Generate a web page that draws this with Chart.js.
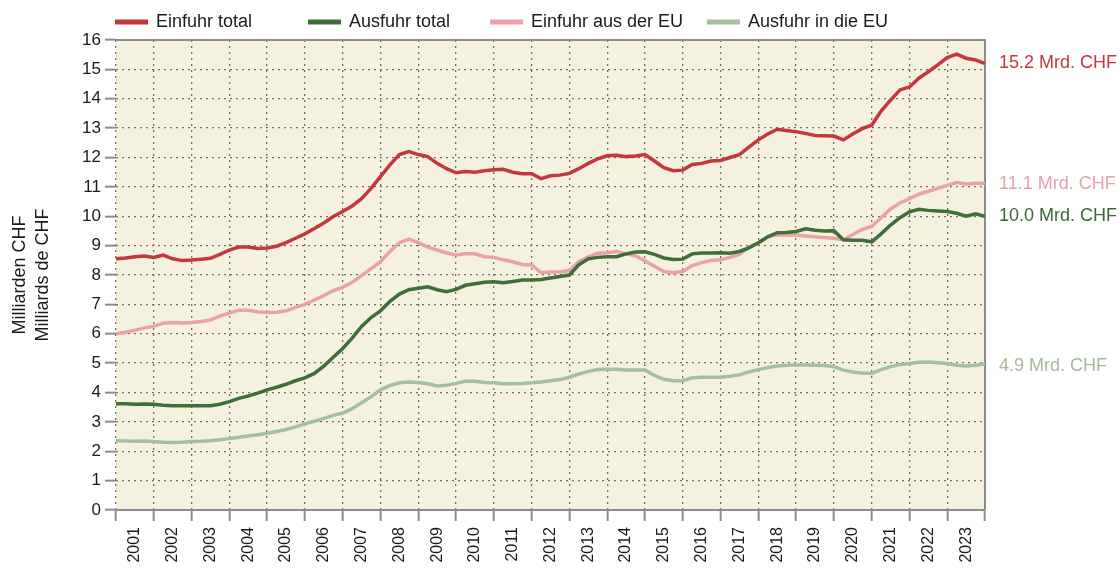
<!DOCTYPE html>
<html lang="de">
<head>
<meta charset="UTF-8">
<title>Aussenhandel Schweiz</title>
<script src="https://cdn.jsdelivr.net/npm/chart.js"></script>
<style>
  body { margin: 0; background: #fff; }
  #wrap { width: 1120px; height: 572px; }
</style>
</head>
<body>
<div id="wrap"><canvas id="chart"></canvas></div>
<script>
// quarterly readings, first point = start of 2001, last = end of 2023
const startYear = 2001;
const endYear = 2024;
const yearTicks = [];
for (let y = startYear; y <= endYear; y++) yearTicks.push(y);

const seriesNames = ['Einfuhr total', 'Ausfuhr total', 'Einfuhr aus der EU', 'Ausfuhr in die EU'];

const einfuhrTotal = [
  8.55, 8.58, 8.62, 8.65,  8.60, 8.68, 8.55, 8.49,  8.51, 8.54, 8.57, 8.70,
  8.85, 8.95, 8.95, 8.90,  8.92, 8.98, 9.10, 9.25,  9.40, 9.58, 9.77, 9.99,
  10.16, 10.35, 10.60, 10.95,  11.35, 11.75, 12.10, 12.20,  12.10, 12.03, 11.80, 11.62,
  11.48, 11.52, 11.50, 11.55,  11.58, 11.60, 11.50, 11.45,  11.45, 11.28, 11.38, 11.40,
  11.46, 11.62, 11.80, 11.95,  12.06, 12.08, 12.03, 12.05,  12.10, 11.88, 11.65, 11.55,
  11.57, 11.76, 11.80, 11.88,  11.90, 12.00, 12.10, 12.35,  12.60, 12.80, 12.96, 12.92,
  12.88, 12.82, 12.75, 12.74,  12.73, 12.60, 12.80, 12.98,  13.10, 13.58, 13.95, 14.30,
  14.40, 14.70, 14.92, 15.15,  15.40, 15.52, 15.38, 15.32,  15.20
];
const ausfuhrTotal = [
  3.62, 3.62, 3.60, 3.61,  3.60, 3.57, 3.55, 3.55,  3.55, 3.55, 3.55, 3.60,
  3.69, 3.80, 3.88, 3.98,  4.09, 4.18, 4.28, 4.40,  4.50, 4.65, 4.90, 5.20,
  5.50, 5.85, 6.25, 6.55,  6.78, 7.10, 7.35, 7.50,  7.55, 7.60, 7.50, 7.43,
  7.51, 7.65, 7.70, 7.75,  7.77, 7.74, 7.78, 7.83,  7.83, 7.85, 7.90, 7.95,
  8.00, 8.35, 8.55, 8.60,  8.62, 8.62, 8.72, 8.78,  8.79, 8.70, 8.58, 8.53,
  8.54, 8.72, 8.75, 8.75,  8.76, 8.74, 8.80, 8.92,  9.10, 9.30, 9.44, 9.45,
  9.48, 9.57, 9.52, 9.50,  9.51, 9.20, 9.18, 9.18,  9.13, 9.40, 9.70, 9.95,
  10.15, 10.24, 10.20, 10.18,  10.16, 10.10, 10.00, 10.08,  10.00
];
const einfuhrEU = [
  6.00, 6.05, 6.12, 6.20,  6.25, 6.36, 6.38, 6.37,  6.38, 6.42, 6.47, 6.60,
  6.70, 6.80, 6.80, 6.75,  6.72, 6.73, 6.78, 6.90,  7.00, 7.15, 7.30, 7.47,
  7.58, 7.75, 7.98, 8.22,  8.45, 8.80, 9.10, 9.22,  9.10, 8.95, 8.85, 8.75,
  8.68, 8.72, 8.72, 8.62,  8.60, 8.52, 8.45, 8.36,  8.34, 8.08, 8.10, 8.10,
  8.15, 8.45, 8.62, 8.74,  8.76, 8.80, 8.72, 8.65,  8.48, 8.30, 8.12, 8.08,
  8.12, 8.32, 8.42, 8.49,  8.52, 8.60, 8.70, 8.95,  9.08, 9.30, 9.36, 9.36,
  9.36, 9.33, 9.30, 9.28,  9.25, 9.20, 9.38, 9.55,  9.65, 9.95, 10.25, 10.45,
  10.60, 10.75, 10.85, 10.95,  11.05, 11.15, 11.10, 11.12,  11.12
];
const ausfuhrEU = [
  2.36, 2.35, 2.34, 2.35,  2.33, 2.31, 2.30, 2.31,  2.33, 2.34, 2.36, 2.39,
  2.43, 2.48, 2.52, 2.56,  2.61, 2.67, 2.74, 2.83,  2.93, 3.02, 3.12, 3.22,
  3.30, 3.45, 3.65, 3.85,  4.09, 4.24, 4.33, 4.36,  4.34, 4.30, 4.22, 4.25,
  4.31, 4.38, 4.38, 4.34,  4.33, 4.30, 4.30, 4.31,  4.33, 4.36, 4.40, 4.44,
  4.52, 4.63, 4.72, 4.78,  4.79, 4.79, 4.77, 4.77,  4.77, 4.58, 4.45, 4.40,
  4.40, 4.50, 4.52, 4.52,  4.52, 4.55, 4.60, 4.70,  4.78, 4.85, 4.90, 4.93,
  4.94, 4.94, 4.93, 4.92,  4.88, 4.76, 4.70, 4.66,  4.65, 4.78, 4.88, 4.95,
  4.99, 5.03, 5.04, 5.01,  4.99, 4.93, 4.90, 4.93,  4.97
];
// latest values printed at the right edge
const latestValues = [15.2, 10.0, 11.1, 4.9];

const colors = ['#c4373d', '#3f6e38', '#eaa2a7', '#a6bf9f'];
const textColors = ['#c4373d', '#3a6836', '#eaa2a7', '#a3b99c'];

const toPoints = arr => arr.map((v, i) => ({ x: startYear + i / 4, y: v }));

const FONT = 'Arial, "Liberation Sans", sans-serif';

const plotFrame = {
  id: 'plotFrame',
  beforeDraw(chart) {
    const { ctx, chartArea: a } = chart;
    ctx.save();
    ctx.fillStyle = '#f4f2df';
    ctx.fillRect(a.left, a.top, a.right - a.left, a.bottom - a.top);
    ctx.restore();
  },
  beforeDatasetsDraw(chart) {
    const { ctx, chartArea: a } = chart;
    ctx.save();
    ctx.strokeStyle = '#8c8c8c';
    ctx.lineWidth = 2;
    ctx.beginPath();
    ctx.moveTo(a.left, a.top);
    ctx.lineTo(a.right, a.top);
    ctx.lineTo(a.right, a.bottom);
    ctx.stroke();
    ctx.restore();
  }
};

const sideLabels = {
  id: 'sideLabels',
  afterDraw(chart) {
    const { ctx, chartArea: a, scales } = chart;
    ctx.save();
    ctx.font = '18px ' + FONT;
    ctx.textBaseline = 'middle';
    ctx.textAlign = 'left';
    latestValues.forEach((v, i) => {
      ctx.fillStyle = textColors[i];
      ctx.fillText(v.toFixed(1) + ' Mrd. CHF', a.right + 14, scales.y.getPixelForValue(v));
    });

    // legend row
    const legendX = [115, 308, 490, 707];
    ctx.lineWidth = 5;
    seriesNames.forEach((name, i) => {
      ctx.strokeStyle = colors[i];
      ctx.beginPath();
      ctx.moveTo(legendX[i], 22);
      ctx.lineTo(legendX[i] + 33, 22);
      ctx.stroke();
      ctx.fillStyle = '#1a1a1a';
      ctx.fillText(name, legendX[i] + 41, 22);
    });
    ctx.restore();
  }
};

const series = [einfuhrTotal, ausfuhrTotal, einfuhrEU, ausfuhrEU];
// draw order: totals on top
const drawOrder = [1, 0, 2, 3];

const gridOpts = {
  color: '#707068',
  lineWidth: 1.3,
  tickLength: 11,
  tickColor: '#8c8c8c',
  tickWidth: 2,
  tickBorderDash: []
};

new Chart(document.getElementById('chart'), {
  type: 'line',
  data: {
    datasets: series.map((arr, i) => ({
      label: seriesNames[i],
      data: toPoints(arr),
      borderColor: colors[i],
      borderWidth: 3.5,
      pointRadius: 0,
      tension: 0,
      fill: false,
      order: drawOrder[i]
    }))
  },
  options: {
    responsive: true,
    maintainAspectRatio: false,
    animation: false,
    layout: { padding: { top: 40, right: 135, left: 0, bottom: 0 } },
    plugins: {
      legend: { display: false },
      tooltip: { enabled: false }
    },
    scales: {
      x: {
        type: 'linear',
        min: startYear,
        max: endYear,
        afterBuildTicks: s => { s.ticks = yearTicks.map(v => ({ value: v })); },
        afterFit: s => { s.height = 62; },
        ticks: {
          autoSkip: false,
          minRotation: 90,
          maxRotation: 90,
          labelOffset: 18.9,
          padding: 6,
          color: '#1a1a1a',
          font: { family: FONT, size: 16 },
          callback: v => (v < endYear ? String(v) : '')
        },
        grid: gridOpts,
        border: { display: true, color: '#8c8c8c', width: 2, dash: [2, 4] }
      },
      y: {
        min: 0,
        max: 16,
        afterFit: s => { s.width = 116; },
        ticks: {
          stepSize: 1,
          padding: 4,
          color: '#1a1a1a',
          font: { family: FONT, size: 17 }
        },
        grid: gridOpts,
        border: { display: false, dash: [2, 4] },
        title: {
          display: true,
          text: ['Milliarden CHF', 'Milliards de CHF'],
          color: '#1a1a1a',
          font: { family: FONT, size: 18, lineHeight: 1.3 },
          padding: { top: 8, bottom: 0 }
        }
      }
    }
  },
  plugins: [plotFrame, sideLabels]
});
</script>
</body>
</html>
